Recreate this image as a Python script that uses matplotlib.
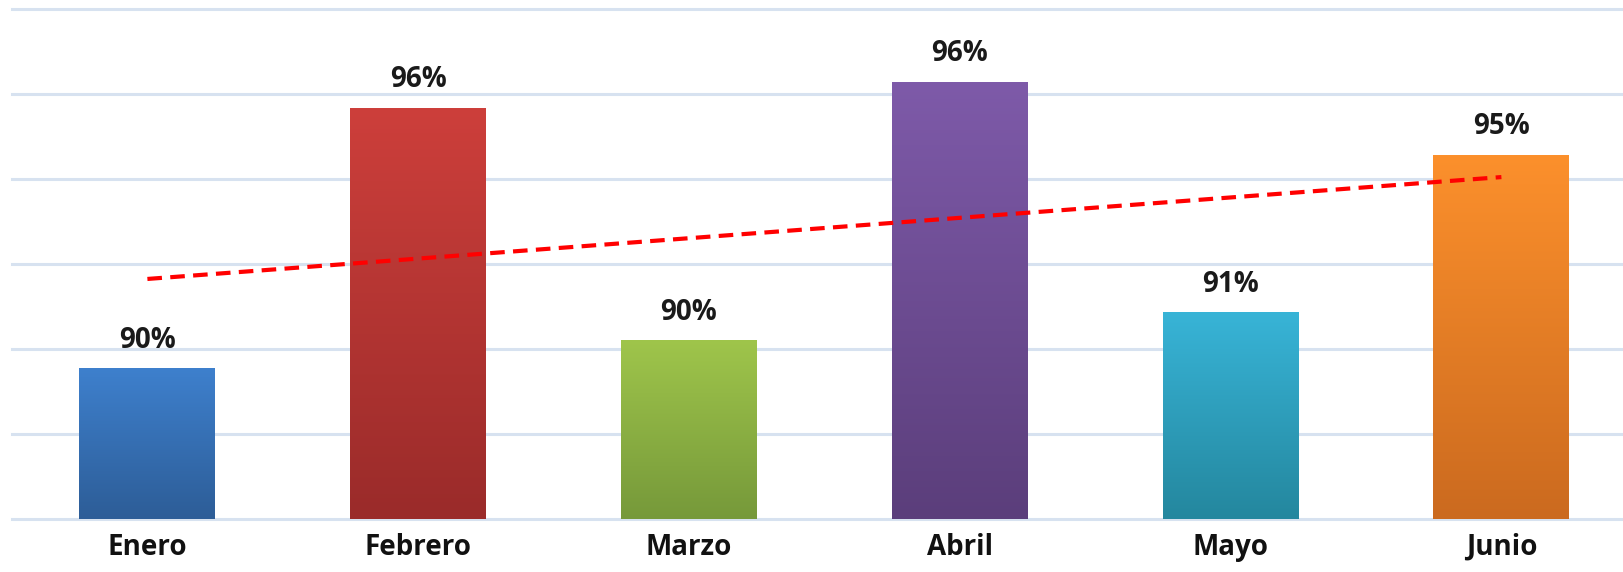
import numpy as np
import matplotlib
matplotlib.use("Agg")
import matplotlib.pyplot as plt
from matplotlib.colors import LinearSegmentedColormap

# Data
months = ["Enero", "Febrero", "Marzo", "Abril", "Mayo", "Junio"]
values = [89.63, 95.77, 90.29, 96.38, 90.95, 94.66]
top_colors = ["#3e80cd", "#cd3f3b", "#9fc54b", "#7e5aa9", "#38b4d7", "#fc902c"]
bottom_colors = ["#2d5d97", "#9a2b2a", "#76993a", "#5b3e7b", "#24879e", "#cb6a1f"]

y_min = 86.1
px_per_unit = 42.5
H, W = 572, 1624
bottom_px = 519
left_px = 12
cat_px = 270.8

fig = plt.figure(figsize=(W / 100, H / 100), dpi=100)
ax = fig.add_axes([left_px / W, (H - bottom_px) / H, len(months) * cat_px / W, bottom_px / H])
y_max = y_min + bottom_px / px_per_unit

for s in ax.spines.values():
    s.set_visible(False)

grid_vals = np.arange(y_min, y_min + 12.01, 2.0)
for g in grid_vals:
    ax.axhline(g, color="#d7e2f0", lw=2.2, zorder=0, clip_on=False)

x = np.arange(len(months))
width = 0.502
bars = ax.bar(x, values, width=width, bottom=0, color="none", zorder=2)
for b, tc, bc in zip(bars, top_colors, bottom_colors):
    cmap = LinearSegmentedColormap.from_list("g", [bc, tc])
    grad = np.linspace(0, 1, 256).reshape(-1, 1)
    x0 = b.get_x()
    ax.imshow(grad, extent=[x0, x0 + b.get_width(), y_min, b.get_height()],
              origin="lower", aspect="auto", cmap=cmap, zorder=2)
ax.set_xlim(-0.5, len(months) - 0.5)
ax.set_ylim(y_min, y_max)

# Trend line (linear fit)
coef = np.polyfit(x, values, 1)
ax.plot(x, np.polyval(coef, x), color="#ff0000", lw=3, ls=(0, (3.5, 2.0)), zorder=4)

# Value labels
for xi, v in zip(x, values):
    ax.annotate(f"{v:.0f}%", (xi, v), xytext=(0, 15), textcoords="offset points",
                ha="center", va="baseline", fontsize=20, fontweight="bold",
                family="Open Sans", color="#1a1a1a")

ax.set_yticks([])
ax.set_xticks(x)
ax.set_xticklabels(months, fontsize=20, fontweight="bold", family="Open Sans", color="#111111")
ax.tick_params(axis="x", length=0, pad=10)

fig.savefig("out.png", dpi=100)
